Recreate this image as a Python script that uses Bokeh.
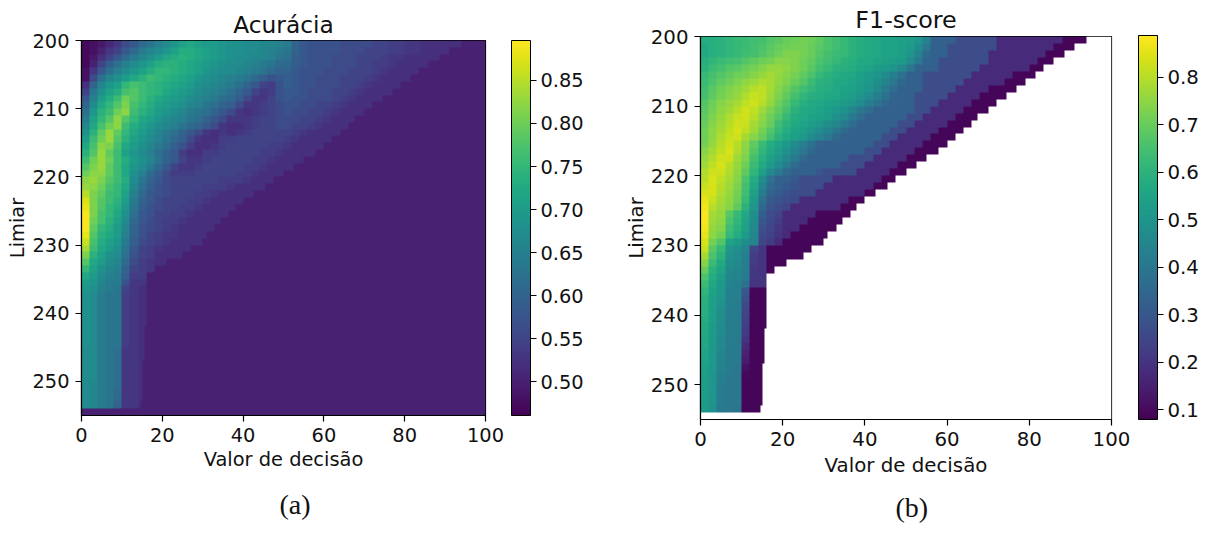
import numpy as np
from bokeh.embed import file_html
from bokeh.resources import INLINE
from bokeh.plotting import figure
from bokeh.layouts import row, column
from bokeh.models import (ColorBar, FixedTicker, LinearColorMapper,
                          PrintfTickFormatter, Range1d, Title)
from bokeh.palettes import Viridis256

x_ticks = [0, 20, 40, 60, 80, 100]
y_ticks = [200, 210, 220, 230, 240, 250]
acc_ticks = [0.50, 0.55, 0.60, 0.65, 0.70, 0.75, 0.80, 0.85]
f1_ticks = [0.1, 0.2, 0.3, 0.4, 0.5, 0.6, 0.7, 0.8]
acc_range = (0.4605, 0.8965)
f1_range = (0.08, 0.8876)

# right-hand limit of the populated region, one value per threshold 200..254
edge = [94, 91, 88.5, 86, 83.5, 81.5, 79, 77, 74.5, 72, 70, 67.5, 66, 64, 62, 60, 58, 55, 52.5, 50,
        47.5, 45.5, 42.5, 40, 38, 36.5, 34.5, 33, 31, 30, 27, 25, 21, 18, 16, 16, 16, 16, 16, 16,
        16, 16, 15.5, 15.5, 15.5, 15.5, 15.5, 15, 15, 15, 15, 15, 15, 14.5, 0]

# accuracy (percent), columns are 2 units wide, one row per threshold
acc_rows = [
 [47,48,49,51,53,56,58,61,63,65,67,69,71,72,71,70,70,69,68,68,67,67,66,66,65,64,60,58,57,57,57,57,56,56,56,56,55,55,54,54,53,53],
 [47,48,50,53,55,58,61,64,66,67,69,71,73,73,72,71,70,69,68,68,67,67,66,65,64,63,60,58,57,57,57,57,56,56,56,55,55,55,54,54,53,53],
 [47,49,52,55,58,61,64,66,68,70,72,73,74,73,72,71,70,69,68,67,67,66,66,65,63,62,59,58,57,57,57,56,56,56,55,55,55,54,53,53],
 [47,50,55,59,62,65,67,69,71,73,74,74,73,72,71,70,69,68,67,67,66,65,64,63,61,61,59,58,57,57,57,56,56,56,55,55,54,54,53],
 [48,53,58,62,65,67,69,71,73,75,75,74,73,72,71,69,68,67,67,66,65,64,63,61,60,60,58,57,57,57,56,56,56,55,55,55,54,53],
 [48,56,62,66,68,70,72,74,76,75,74,73,72,71,69,68,67,66,65,64,63,61,59,57,58,59,58,57,57,56,56,56,55,55,55,54,53],
 [52,60,66,69,71,75,77,76,75,74,73,72,71,70,68,67,66,65,64,62,60,58,55,54,57,59,58,57,57,56,56,56,55,55,54,53],
 [55,63,68,71,73,77,78,76,75,74,72,71,70,69,67,66,65,64,62,60,58,55,53,54,57,58,58,57,56,56,56,55,55,54,53],
 [58,65,70,73,76,80,78,76,74,72,71,70,69,67,66,65,64,62,61,59,56,53,53,55,57,58,57,57,56,56,56,55,54,53],
 [60,67,72,75,78,81,77,75,73,71,70,69,68,66,65,63,62,60,59,56,53,53,54,55,56,57,57,56,56,55,55,54,53],
 [62,69,74,76,80,82,76,74,72,70,69,67,66,64,63,62,60,58,56,53,52,53,54,55,56,57,56,56,55,55,54,53],
 [64,71,75,78,82,78,75,72,71,69,67,66,65,63,62,60,58,56,53,53,53,54,55,55,56,56,56,55,55,54,53],
 [66,72,77,80,82,76,73,71,69,67,66,65,63,61,60,58,56,53,52,52,53,54,55,55,56,56,55,55,54,53],
 [68,74,79,83,79,75,72,70,68,66,64,62,60,58,56,53,52,53,52,53,54,55,55,55,55,55,54,53],
 [70,76,80,83,78,74,71,69,67,65,63,61,59,56,53,52,52,54,54,55,55,55,55,55,55,54,53],
 [72,77,82,81,77,72,70,68,66,64,62,59,57,54,52,52,53,54,55,55,55,55,55,54,54,53],
 [74,78,83,79,76,71,69,67,65,62,60,58,54,52,52,54,54,55,55,55,55,55,54,54,53],
 [76,80,83,80,76,73,70,68,66,63,60,58,55,53,53,54,55,55,55,55,55,54,54,53],
 [78,81,83,79,76,72,69,67,64,61,58,55,53,53,54,55,55,55,55,55,54,54,53],
 [80,82,82,79,76,72,68,65,61,59,56,54,54,54,55,55,55,55,55,54,54,53],
 [82,83,81,78,76,73,67,63,60,58,56,55,55,55,55,55,55,54,54,54,53],
 [83,82,80,77,75,72,66,62,59,57,56,55,55,55,55,54,54,54,53],
 [85,81,79,76,75,71,65,61,58,57,56,55,55,55,54,54,53],
 [87,81,78,76,74,70,64,60,58,56,55,55,55,54,54,53],
 [88,81,78,75,73,69,63,59,57,56,55,55,54,54,53],
 [89,81,77,75,72,68,62,58,57,55,55,54,54,53],
 [89,80,77,74,71,67,61,58,56,55,54,54,53],
 [89,79,75,73,70,66,60,57,56,55,54,53],
 [88,78,74,72,70,65,60,57,55,54,53,53],
 [86,77,73,71,69,64,59,56,55,54,53],
 [84,76,72,70,68,63,58,55,54,53],
 [81,74,71,68,67,62,57,55,54],
 [78,72,70,67,66,61,56,54,53],
 [75,71,68,66,65,60,55,54,53],
 [72,70,67,65,64,59,54,54],
 [70,69,66,64,64,57,53,53],
 [69,68,65,64,63,55,53,52],
 [68,67,64,63,63,54,53,52],
 [68,67,64,63,63,54,53,52],
 [68,67,64,63,63,54,53,52],
 [68,67,64,63,63,54,53,52],
 [68,67,64,63,63,54,53,52],
 [68,67,64,63,63,54,53,52],
 [68,67,64,63,63,54,53,52],
 [68,67,64,63,63,54,53,52],
 [67,67,64,63,62,53,53,52],
 [67,67,64,63,62,53,53,52],
 [67,67,64,63,62,53,53,52],
 [67,67,64,63,62,53,53,52],
 [67,67,64,63,62,53,53,52],
 [67,66,64,63,62,53,53,52],
 [67,66,64,63,61,53,53,52],
 [67,66,64,63,61,53,53,52],
 [67,66,64,63,60,53,53,52],
 [],
]

# F1-score (percent), same grid; beyond each list the dark outer band runs to edge
f1_rows = [
 [58,59,60,61,62,63,64,65,67,68,70,71,72,71,69,66,64,62,60,58,57,56,55,55,54,53,50,44,33,33,33,27,27,27,27,27,18,18,18,18,18,18,18,18],
 [57,59,60,61,62,63,65,66,68,70,71,72,72,70,68,66,64,62,60,58,57,56,55,55,54,52,47,40,33,33,27,27,27,27,27,27,18,18,18,18,18,18,18],
 [57,59,60,61,62,64,65,67,69,71,73,73,72,70,67,65,63,62,60,58,57,56,55,55,54,50,44,36,33,33,27,27,27,27,27,18,18,18,18,18,18,18],
 [59,61,63,64,65,67,69,71,72,74,74,73,71,69,66,64,62,60,59,57,56,55,54,53,52,47,41,34,33,27,27,27,27,27,27,18,18,18,18,18,18],
 [60,63,65,67,68,70,72,74,76,76,75,73,71,68,65,62,60,59,58,56,55,53,52,50,46,40,34,33,33,27,27,27,27,27,18,18,18,18,18,18],
 [62,65,67,69,71,72,74,76,78,76,74,72,69,66,62,60,58,57,56,54,52,50,47,43,38,33,33,27,27,27,27,27,27,18,18,18,18,18],
 [63,66,69,71,73,75,77,79,78,75,73,70,67,63,60,59,57,56,55,53,51,48,44,40,35,33,33,27,27,27,27,27,18,18,18,18,18],
 [64,68,71,73,75,77,80,81,78,74,71,67,64,61,59,58,56,55,54,52,50,46,41,37,33,33,33,27,27,27,27,18,18,18,18],
 [65,69,72,74,76,79,82,81,77,73,69,65,61,59,58,57,56,54,53,50,47,43,38,34,33,33,27,27,27,27,18,18,18,18],
 [67,71,74,76,78,81,83,80,76,71,67,62,59,57,56,55,54,52,50,47,43,39,35,33,33,33,27,27,27,18,18,18,18],
 [68,72,75,77,80,83,81,77,73,69,65,60,57,56,55,53,51,49,45,40,37,33,33,33,33,33,27,27,18,18,18,18],
 [69,73,76,79,82,83,80,75,71,67,62,58,56,55,54,52,49,46,41,37,33,33,33,33,33,27,27,18,18,18,18],
 [70,74,77,80,83,82,78,74,70,64,60,57,55,53,51,48,45,41,37,33,33,33,33,33,27,27,18,18,18,18],
 [71,75,78,81,84,81,77,72,67,62,58,55,53,50,47,44,40,36,33,33,33,33,33,27,27,18,18,18,18],
 [71,75,79,82,83,78,74,70,65,60,56,54,51,47,44,40,36,33,33,33,33,33,27,27,18,18,18,18],
 [72,76,80,83,80,75,69,63,58,55,52,47,43,38,34,33,33,33,33,33,33,27,27,18,18,18,18],
 [74,78,81,84,79,74,67,61,56,53,49,44,40,35,33,33,33,33,33,33,27,27,18,18,18,18],
 [76,79,83,83,77,73,65,59,54,50,46,41,36,33,33,33,33,33,27,27,27,18,18,18,18],
 [77,81,84,80,76,71,63,57,52,47,42,37,33,33,33,33,33,27,27,27,18,18,18,18],
 [79,83,83,79,75,69,61,54,46,41,36,33,33,33,30,27,27,27,27,18,18,18,18],
 [80,84,81,78,74,66,58,48,38,33,33,30,27,27,27,27,18,18,18,18,18,18],
 [82,84,80,77,73,65,56,45,36,33,31,29,27,27,27,18,18,18,18,18,18],
 [84,84,79,76,72,64,54,42,34,31,29,27,27,27,18,18,18,18,18,18],
 [86,82,78,75,71,62,52,38,31,29,27,26,18,18,18,18,18,18],
 [87,80,77,74,69,60,50,35,29,27,25,18,18,18,18,18,18],
 [88,78,76,68,62,56,48,32,27,25,18,18,18,18],
 [88,77,75,66,61,55,47,30,26,23,18,18,18],
 [87,76,74,64,60,54,46,28,25,21,18,18],
 [86,75,72,62,58,52,45,26,24,20,18],
 [84,72,67,55,52,48,44,25,22,18],
 [82,68,62,50,48,44,25,20],
 [78,66,60,49,47,43,23,20],
 [74,63,57,48,46,42,22,20],
 [70,60,55,46,45,42,21,20],
 [66,58,53,45,44,41,21,20],
 [63,56,52,44,43,38,20,20],
 [61,55,51,43,43,30],
 [60,54,50,43,43,28],
 [59,54,49,43,42,26],
 [59,53,48,42,42,25],
 [58,53,48,42,42,24],
 [57,52,47,42,42,23],
 [57,52,47,42,42,22],
 [56,52,46,42,41,20],
 [56,51,46,41,41,18],
 [55,51,45,41,41,16],
 [55,51,44,41,41,14],
 [54,51,44,41,40,12],
 [54,50,43,41,40,10],
 [53,50,43,40,40,9],
 [53,50,42,40,40,9],
 [53,50,42,40,40,9],
 [52,50,41,40,40,9],
 [52,49,41,40,39,9],
 [],
]

acc_outer, acc_background = 52, 50
f1_outer = 9


def to_grid(rows, outer, beyond):
    grid = np.full((len(rows), 200), np.nan if beyond is None else beyond / 100)
    for i, r in enumerate(rows):
        n = int(round(edge[i] * 2))
        if n == 0:
            continue
        vals = np.repeat(np.array(r, dtype=float), 4)[:n]
        grid[i, :n] = outer / 100
        grid[i, :len(vals)] = vals / 100
    return grid


def panel(grid, title, low_high, ticks, fmt, fw, fh, top, left, width, height, caption, cap_off, fs, tfs, cb_gap, cap_gap, xlabel_gap):
    mapper = LinearColorMapper(palette=Viridis256, low=low_high[0], high=low_high[1], nan_color="white")
    p = figure(width=width, height=height, output_backend="svg", toolbar_location=None,
               x_range=Range1d(0, 100), y_range=Range1d(255, 200), tools="",
               min_border_left=left, min_border_top=top, min_border_bottom=height - top - fh,
               min_border_right=width - left - fw, title=title,
               x_axis_label="Valor de decisão", y_axis_label="Limiar")
    p.image(image=[grid], x=0, y=200, dw=100, dh=55, color_mapper=mapper)
    p.grid.visible = False
    p.outline_line_color = "black"
    p.outline_line_width = 1.2
    p.title.align = "center"
    p.title.text_font = "DejaVu Sans"
    p.title.text_font_style = "normal"
    p.title.text_font_size = tfs
    p.title.text_color = "#111111"
    p.title.standoff = 6
    for ax in (p.xaxis[0], p.yaxis[0]):
        ax.axis_label_text_font = "DejaVu Sans"
        ax.axis_label_text_font_style = "normal"
        ax.axis_label_text_font_size = fs
        ax.axis_label_text_color = "#111111"
        ax.major_label_text_font = "DejaVu Sans"
        ax.major_label_text_font_size = fs
        ax.major_label_text_color = "#111111"
        ax.major_tick_out = 6
        ax.major_tick_in = 0
        ax.minor_tick_out = 0
        ax.minor_tick_in = 0
        ax.major_tick_line_width = 1.2
        ax.axis_line_width = 1.2
        ax.axis_line_color = "black"
        ax.major_tick_line_color = "black"
        ax.major_label_standoff = 6
    p.xaxis[0].axis_label_standoff = xlabel_gap
    p.yaxis[0].axis_label_standoff = 0
    p.xaxis[0].ticker = FixedTicker(ticks=x_ticks)
    p.yaxis[0].ticker = FixedTicker(ticks=y_ticks)
    p.yaxis[0].major_label_orientation = "horizontal"
    cb = ColorBar(color_mapper=mapper, ticker=FixedTicker(ticks=ticks), formatter=PrintfTickFormatter(format=fmt),
                  width=19, height=fh, padding=0, margin=0, location=(cb_gap, 0),
                  bar_line_color="black", bar_line_width=1, major_tick_line_color="black",
                  major_tick_in=0, major_tick_out=6, major_tick_line_width=1.2,
                  minor_tick_line_color=None, label_standoff=4,
                  major_label_text_font="DejaVu Sans", major_label_text_font_size=fs,
                  major_label_text_color="#111111")
    p.add_layout(cb, "right")
    p.add_layout(Title(text=caption, align="left", offset=cap_off, standoff=cap_gap,
                       text_font="Liberation Serif", text_font_size="28px", text_font_style="normal",
                       text_color="#111111"), "below")
    return p


p1 = panel(to_grid(acc_rows, acc_outer, acc_background), "Acurácia", acc_range, acc_ticks, "%.2f",
           404, 375, 40, 81, 590, 533, "(a)", 198, "19.4px", "23.3px", 26, 27, 3)
p2 = panel(to_grid(f1_rows, f1_outer, None), "F1-score", f1_range, f1_ticks, "%.1f",
           411, 384, 36, 110, 617, 533, "(b)", 195, "19.8px", "23.8px", 27, 21, 5)

layout = row(column(p1), column(p2))
open("out.html", "w").write(file_html(layout, INLINE))
